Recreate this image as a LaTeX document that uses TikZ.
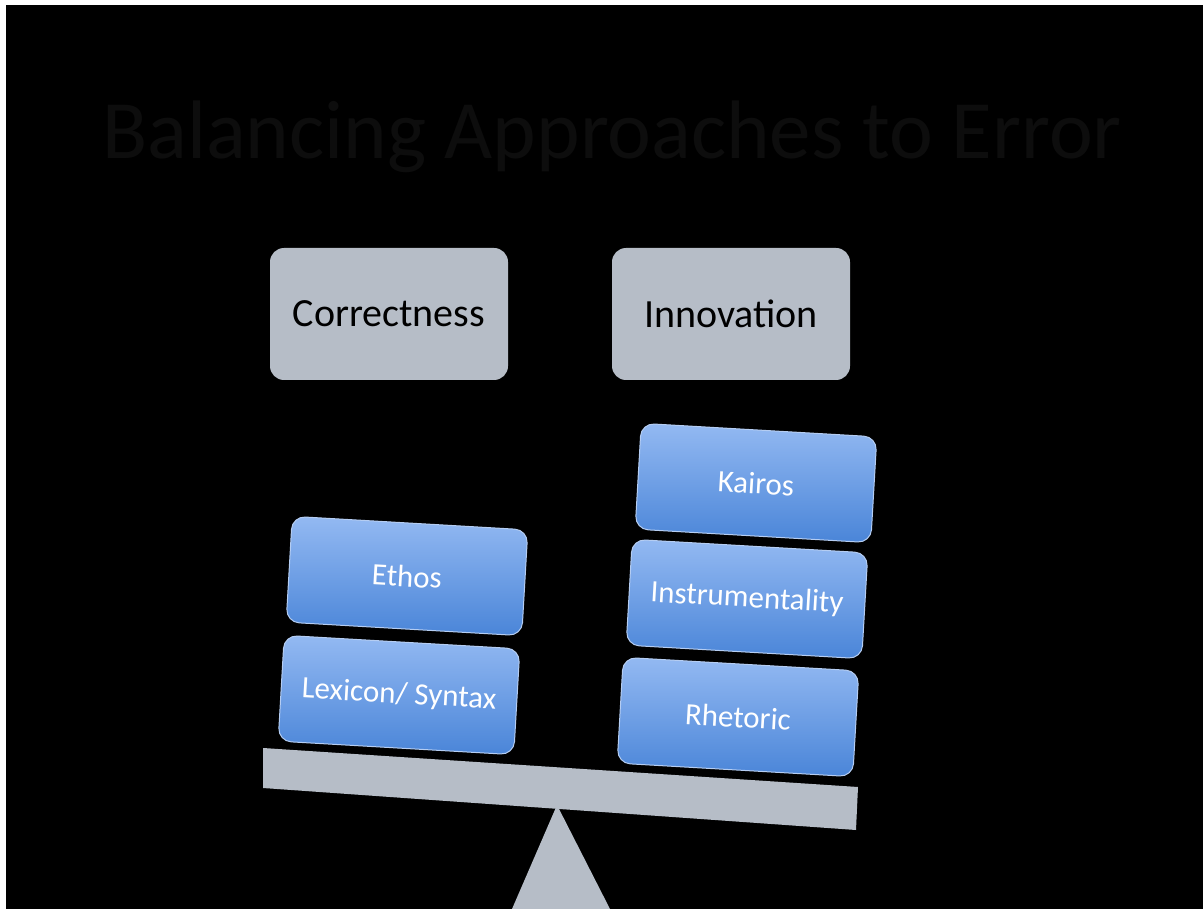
\documentclass[tikz,border=0pt]{standalone}
\usepackage{fontspec}
\setmainfont{Carlito}
\usepackage{tikz}
\usetikzlibrary{shapes,calc,positioning}

\definecolor{slab}{HTML}{B6BDC7}
\definecolor{bluetop}{HTML}{93B9F2}
\definecolor{bluebot}{HTML}{4A85D8}
\definecolor{bluerim}{HTML}{B5CDF2}
\definecolor{titlegray}{HTML}{0D0D0D}

\begin{document}
\begin{tikzpicture}[x=1pt,y=-1pt,
    head/.style={rectangle,rounded corners=14pt,fill=slab,minimum width=238pt,
                 minimum height=132pt,font=\fontsize{40}{46}\selectfont,text=black},
    brick/.style={rectangle,rounded corners=13pt,top color=bluetop,bottom color=bluebot,
                  draw=bluerim,line width=1pt,minimum width=236pt,minimum height=106pt,
                  rotate=-3.3,font=\fontsize{31}{36}\selectfont,text=white}]

 % page
 \fill[white] (0,0) rectangle (1203,909);
 \fill[black] (6,5) rectangle (1203,909);
 \useasboundingbox (0,0) rectangle (1203,909);

 \node[font=\fontsize{83}{94}\selectfont,text=titlegray] (title) at (612,137)
      {Balancing Approaches to Error};

 \node[head] (corr) at (389,314) {Correctness};
 \node[head] (inno) at (731,314) {Innovation};

 % fulcrum and beam
 \fill[slab] (557,805) -- (610,909) -- (512,909) -- cycle;
 \fill[slab] (263,748) -- (858,787) -- (856,830) -- (263,788) -- cycle;

 \node[brick] (ethos) at (407,576) {Ethos};
 \node[brick] (lex)   at (399,695) {Lexicon/ Syntax};

 \node[brick] (kairos) at (756,483) {Kairos};
 \node[brick] (instr)  at (747,599) {Instrumentality};
 \node[brick] (rhet)   at (738,717) {Rhetoric};
\end{tikzpicture}
\end{document}
